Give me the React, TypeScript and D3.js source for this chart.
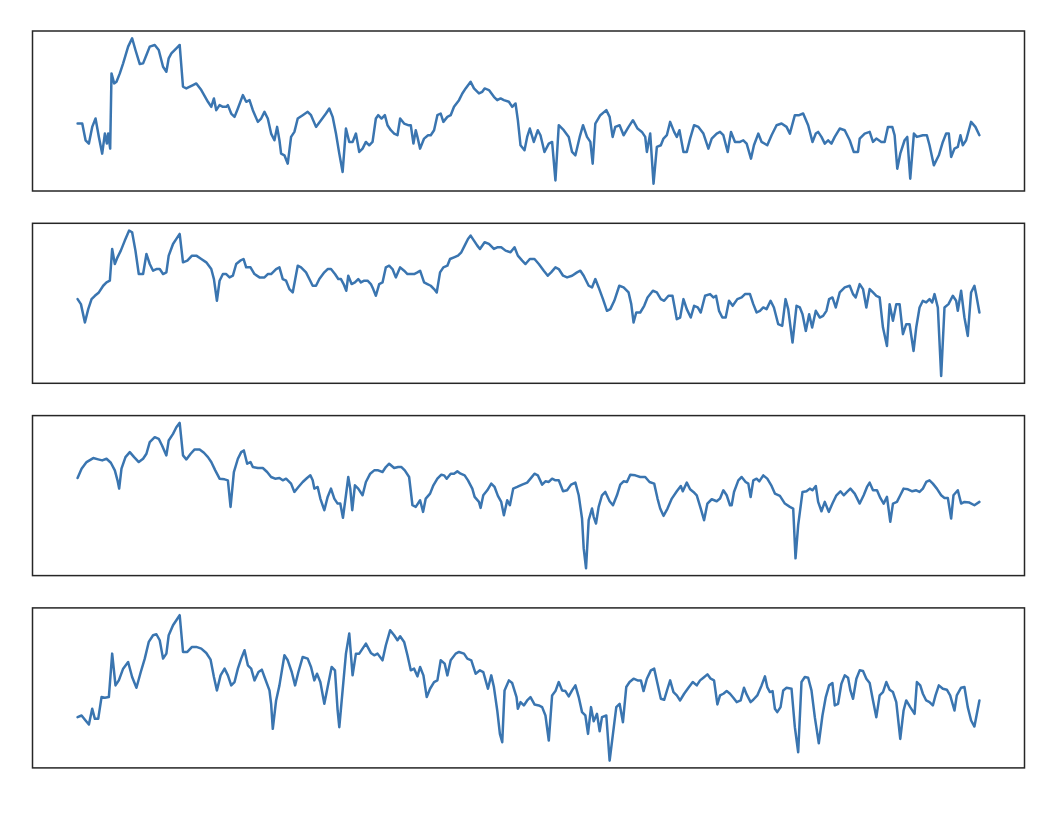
import React from 'react';
import * as d3 from 'd3';

// Four series as [time, value] pairs (arbitrary units, no axes shown)
const seriesA: [number, number][] = [
  [48,210],[62,210],[72,160],[82,150],[92,200],[102,225],[112,170],[122,120],[130,180],[136,150],[140,180],[146,135],
  [150,360],[158,330],[165,335],[175,360],[185,390],[200,440],[212,465],[222,430],[235,388],[245,390],[255,415],[265,440],
  [280,445],[292,430],[305,380],[315,365],[322,405],[330,420],[345,435],[355,445],[365,320],[375,315],[395,325],[405,330],
  [420,310],[440,275],[450,260],[458,285],[465,250],[475,265],[485,260],[495,260],[500,265],[510,240],[520,230],[530,255],
  [545,295],[555,275],[565,280],[575,250],[590,215],[600,225],[610,245],[620,225],[630,180],[640,160],[648,200],[655,160],
  [660,120],[670,115],[680,90],[690,170],[700,185],[710,225],[725,235],[740,245],[750,235],[765,200],[780,220],[795,240],
  [805,255],[815,230],[825,180],[835,120],[845,65],[855,195],[865,155],[875,155],[885,180],[895,125],[905,135],[915,155],
  [925,145],[935,155],[945,225],[952,235],[962,225],[972,235],[980,205],[990,190],[1000,180],[1010,175],[1018,225],[1030,210],
  [1042,205],[1050,205],[1058,150],[1065,190],[1070,170],[1078,135],[1090,165],[1102,175],[1110,175],[1120,190],[1130,235],
  [1140,240],[1148,215],[1160,230],[1170,235],[1180,260],[1195,280],[1205,300],[1215,315],[1230,335],[1240,315],[1255,300],
  [1265,305],[1272,315],[1285,310],[1300,290],[1310,280],[1320,285],[1330,280],[1345,275],[1355,260],[1365,270],[1372,220],
  [1380,145],[1392,130],[1400,170],[1408,195],
  [1420,155],[1432,190],[1440,175],[1452,125],[1465,150],[1475,155],[1485,40],[1495,205],[1510,190],[1525,170],[1535,125],
  [1545,115],[1558,170],[1568,205],[1580,170],[1590,155],[1597,90],[1605,210],[1620,235],[1638,250],[1648,230],[1657,170],
  [1665,200],[1678,205],[1690,175],[1705,200],[1718,220],[1732,195],[1745,185],[1755,170],[1760,125],[1770,180],[1780,30],
  [1790,140],[1802,145],[1810,165],[1820,175],[1830,215],[1842,185],[1850,170],[1858,190],[1870,125],[1880,125],[1890,165],
  [1902,205],[1915,200],[1930,180],[1945,135],[1955,165],[1970,180],[1980,185],[1990,175],[2003,125],[2013,185],[2025,155],
  [2040,155],[2050,160],[2060,150],[2073,105],[2082,145],[2095,180],[2105,155],[2122,145],[2135,175],[2150,205],[2165,210],
  [2180,200],[2190,180],[2205,235],[2218,235],[2230,240],[2245,205],[2258,155],[2268,180],[2275,185],[2285,170],[2295,150],
  [2305,160],[2315,150],[2325,170],[2340,195],[2355,190],[2370,160],[2382,125],[2395,125],[2400,165],[2415,180],[2430,185],
  [2440,155],[2450,165],[2465,155],[2475,155],[2485,200],[2498,200],[2505,175],[2513,75],[2522,120],[2535,160],[2543,170],
  [2552,45],[2563,180],[2572,170],[2590,175],[2602,175],[2610,145],[2623,85],[2638,115],[2650,155],[2660,180],[2668,180],
  [2675,110],[2685,135],[2695,140],[2703,175],[2710,145],[2720,160],[2735,215],[2748,200],[2760,175],
];

const seriesB: [number, number][] = [
  [48,255],[58,240],[70,185],[80,225],[90,255],[100,265],[112,275],[125,295],[135,305],[145,310],[152,405],[160,360],
  [168,380],[178,400],[190,430],[203,460],[212,455],[222,400],[232,330],[245,330],[255,390],[265,360],[275,340],[285,345],
  [295,345],[305,330],[315,335],[322,385],[335,420],[345,435],[355,450],[365,365],[378,370],[392,385],[405,385],[420,375],
  [435,365],[450,345],[458,315],[467,250],[475,310],[485,330],[495,330],[505,320],[515,325],[525,360],[537,370],[547,375],
  [555,350],[568,350],[580,330],[595,320],[610,320],[620,330],[630,330],[645,345],[655,350],[665,315],[675,310],[685,285],
  [695,275],[710,355],[720,350],[735,335],[745,315],[755,295],[765,295],[775,315],[790,335],[800,345],[810,345],[822,330],
  [832,315],[840,315],[848,300],[856,280],[862,325],[872,300],[882,305],[892,315],[900,305],[910,310],[920,310],[930,300],
  [937,285],[945,265],[955,300],[965,305],[975,350],[985,355],[995,345],[1005,320],[1018,350],[1030,340],[1040,330],[1050,330],
  [1060,330],[1070,335],[1078,340],[1090,305],[1100,300],[1110,295],[1120,285],[1128,275],[1138,335],[1148,350],[1160,355],
  [1168,375],[1180,380],[1192,385],[1202,395],[1212,415],[1222,435],[1230,445],[1240,430],[1250,415],[1258,405],[1272,425],
  [1285,420],[1300,405],[1310,410],[1322,410],[1335,400],[1350,395],[1362,410],[1372,385],[1385,370],[1395,360],[1408,375],
  [1422,375],[1435,360],[1450,340],[1462,325],[1472,335],[1485,350],[1495,345],[1508,325],[1520,320],[1535,325],[1550,335],
  [1560,340],[1570,325],[1585,295],[1595,290],[1605,315],[1615,290],[1628,255],[1640,220],[1650,225],[1662,250],[1677,295],
  [1690,290],[1705,275],[1713,240],[1720,185],[1728,215],[1740,215],[1752,235],[1762,260],[1778,280],[1790,275],[1802,255],
  [1812,250],[1825,265],[1837,265],[1850,195],[1860,200],[1870,255],[1880,225],[1892,200],[1902,235],[1913,230],[1922,215],
  [1935,265],[1950,270],[1960,260],[1968,265],[1977,220],[1987,200],[1997,200],[2007,250],[2018,235],[2032,255],[2045,260],
  [2055,270],[2070,270],[2080,240],[2090,215],[2100,220],[2110,230],[2120,225],[2132,250],[2142,230],[2155,180],[2167,175],
  [2177,255],[2185,225],[2198,125],[2210,235],[2220,230],[2228,210],[2238,160],[2248,210],[2257,170],[2268,220],[2280,200],
  [2290,205],[2300,220],[2308,255],[2318,260],[2328,230],[2340,275],[2355,290],[2370,295],[2380,270],[2388,260],[2400,300],
  [2410,285],[2420,230],[2430,285],[2440,275],[2450,265],[2460,260],[2470,170],[2482,115],[2490,240],[2500,190],[2510,240],
  [2520,240],[2530,150],[2540,180],[2550,180],[2562,100],[2570,170],[2580,230],[2590,250],[2600,245],[2610,255],[2618,245],
  [2625,270],[2635,230],[2645,25],[2655,230],[2667,240],[2680,265],[2690,250],[2695,220],[2705,280],[2715,200],[2725,145],
  [2735,275],[2745,295],[2750,270],[2760,215],
];

const seriesC: [number, number][] = [
  [48,292],[60,320],[75,340],[95,352],[110,348],[122,345],[135,350],[148,338],[160,315],[168,285],[173,260],[180,320],
  [192,355],[205,370],[218,355],[232,340],[245,350],[255,365],[265,400],[280,415],[292,410],[302,390],[315,360],[322,405],
  [335,425],[345,445],[355,458],[365,360],[375,348],[388,365],[400,378],[415,378],[428,368],[440,355],[450,340],[462,315],
  [475,290],[490,288],[500,285],[508,205],[518,310],[530,350],[540,370],[548,375],[558,335],[568,340],[575,325],[590,322],
  [605,322],[618,310],[630,295],[642,290],[655,292],[665,285],[675,290],[690,275],[700,250],[712,265],[725,280],[738,292],
  [748,300],[755,285],[760,260],[770,265],[778,230],[790,195],[800,235],[810,260],[820,230],[830,215],[838,215],[846,172],
  [855,240],[862,295],[868,260],[874,195],[882,270],[892,260],[905,240],[915,280],[928,305],[940,315],[952,315],[965,310],
  [975,325],[985,335],[1000,322],[1012,325],[1022,325],[1032,315],[1045,295],[1055,210],[1065,205],[1078,225],[1087,190],
  [1095,230],[1108,245],[1118,270],[1130,290],[1142,302],[1150,300],[1158,290],[1170,305],[1180,305],[1190,312],[1200,305],
  [1212,300],[1222,285],[1235,260],[1242,235],[1255,220],[1260,202],[1268,240],[1280,255],[1292,275],[1302,265],[1312,238],
  [1322,220],[1330,180],[1340,225],[1348,210],[1358,260],[1370,265],[1385,272],[1400,278],[1410,290],
  [1422,305],[1432,300],[1445,272],[1455,282],[1465,280],[1475,290],[1485,285],[1495,285],[1508,252],[1520,255],[1532,272],
  [1545,278],[1555,240],[1565,170],[1570,80],[1577,20],[1585,165],[1595,200],[1600,175],[1607,155],[1615,205],[1625,240],
  [1635,250],[1648,222],[1658,210],[1670,240],[1680,272],[1690,282],[1700,280],[1710,302],[1725,300],[1740,295],[1755,295],
  [1768,280],[1782,275],[1792,230],[1800,200],[1810,178],[1822,200],[1835,230],[1850,252],[1862,268],[1868,252],[1880,278],
  [1890,258],[1900,250],[1910,240],[1922,200],[1932,165],[1942,215],[1955,228],[1970,222],[1980,230],[1990,255],[2000,240],
  [2010,210],[2015,210],[2022,250],[2035,285],[2045,295],[2057,280],[2065,275],[2072,235],[2080,285],[2090,290],[2098,282],
  [2110,300],[2122,290],[2135,268],[2145,245],[2160,238],[2175,215],[2190,205],[2200,200],[2207,50],[2215,150],[2228,250],
  [2240,252],[2250,260],[2258,255],[2268,268],[2275,220],[2285,192],[2295,220],[2307,190],[2318,215],[2330,240],[2342,252],
  [2352,240],[2362,250],[2372,260],[2385,245],[2400,215],[2412,240],[2422,265],[2430,278],[2440,255],[2452,255],[2462,232],
  [2472,215],[2482,235],[2492,160],[2500,215],[2512,220],[2522,240],[2532,260],[2545,258],[2558,252],[2570,255],[2580,250],
  [2590,260],[2600,280],[2610,285],[2620,275],[2632,260],[2645,240],[2655,232],[2665,232],[2675,170],[2682,240],[2695,255],
  [2705,215],[2715,220],[2730,218],[2745,210],[2760,220],
];

const seriesD: [number, number][] = [
  [48,150],[60,155],[72,140],[82,128],[92,175],[100,145],[110,145],[120,210],[130,208],[142,210],[152,340],[162,245],
  [172,260],[185,295],[200,315],[212,270],[225,238],[238,285],[250,325],[262,375],[275,395],[285,398],[295,380],[305,325],
  [315,340],[322,395],[335,425],[345,440],[355,455],[365,345],[378,345],[392,360],[405,360],[420,355],[435,342],[448,322],
  [458,270],[467,230],[478,275],[490,295],[500,275],[510,245],[520,255],[530,295],[540,325],[550,350],[560,305],[570,295],
  [580,260],[592,285],[602,292],[612,265],[625,230],[630,190],[635,115],[645,200],[655,245],[670,335],[680,320],[692,285],
  [702,245],[712,285],[725,330],[740,325],[750,300],[760,260],[768,280],[778,255],[790,190],[800,240],[812,300],[822,290],
  [830,170],[835,120],[845,230],[855,340],[865,400],[875,275],[885,340],[895,340],[905,355],[915,370],[930,342],[940,335],
  [950,340],[965,320],[975,365],[988,410],[1000,395],[1010,380],[1018,392],[1030,375],[1040,335],[1050,290],[1060,295],
  [1070,272],[1078,300],[1088,275],[1098,210],[1108,235],[1120,255],[1130,260],[1140,320],[1152,310],[1160,275],[1170,320],
  [1185,340],[1195,345],[1210,340],[1220,325],[1232,320],[1245,280],[1258,290],[1268,285],[1275,260],[1282,235],[1292,275],
  [1300,240],[1310,170],[1318,100],[1325,75],[1332,230],[1345,260],[1355,252],[1368,210],[1372,175],[1380,195],[1390,185],
  [1400,200],
  [1410,210],[1422,188],[1435,185],[1445,180],[1455,155],[1465,80],[1475,215],[1485,228],[1495,255],[1505,230],[1515,228],
  [1525,212],[1535,230],[1545,245],[1555,210],[1565,165],[1575,155],[1583,100],[1592,180],[1600,138],[1610,160],[1618,108],
  [1625,150],[1638,155],[1648,20],[1658,100],[1668,180],[1678,190],[1688,135],[1698,240],[1708,255],[1720,265],[1732,260],
  [1742,260],[1750,228],[1760,265],[1772,290],[1782,295],[1792,250],[1802,205],[1812,202],[1822,235],[1830,260],[1840,225],
  [1850,215],[1860,200],[1872,220],[1885,238],[1898,255],[1910,245],[1920,260],[1930,268],[1942,278],[1952,265],[1962,260],
  [1972,188],[1980,215],[1990,220],[2000,228],[2010,220],[2020,208],[2030,195],[2042,200],[2052,238],[2060,218],[2072,195],
  [2080,202],[2092,215],[2105,245],[2115,272],[2122,240],[2130,225],[2138,228],[2145,175],[2152,165],[2162,180],[2170,230],
  [2180,238],[2195,235],[2205,120],[2215,45],[2225,255],[2235,270],[2245,268],[2255,230],[2265,150],[2277,72],[2288,155],
  [2298,210],[2308,245],[2318,252],[2325,185],[2335,190],[2345,250],[2355,275],[2365,268],[2372,230],[2380,205],[2390,265],
  [2400,290],[2410,288],[2420,265],[2430,252],[2440,200],[2450,150],[2460,215],[2470,225],[2480,255],[2490,232],[2500,225],
  [2510,195],[2522,85],[2532,170],[2540,200],[2552,180],[2565,160],[2572,255],[2582,245],[2590,220],[2600,200],[2610,195],
  [2620,185],[2628,215],[2638,245],[2650,235],[2662,232],[2672,215],[2685,170],[2692,215],[2705,238],[2715,240],[2725,180],
  [2735,140],[2745,122],[2760,200],
];

const allSeries = [seriesA, seriesB, seriesC, seriesD];

const W = 1064;
const H = 814;
const left = 32.5;
const right = 1024.5;
const top = 31;
const panelH = 160;
const gap = 32.3;
const color = '#3a75b0';

function padded(ext: [number, number]): [number, number] {
  const pad = (ext[1] - ext[0]) * 0.05;
  return [ext[0] - pad, ext[1] + pad];
}

export default function App() {
  const tExt = d3.extent(allSeries.flat(), d => d[0]) as [number, number];
  const x = d3.scaleLinear().domain(padded(tExt)).range([left, right]);

  return (
    <svg width={W} height={H} style={{ position: 'absolute', left: 0, top: 0, background: '#fff' }}>
      {allSeries.map((s, i) => {
        const y0 = top + i * (panelH + gap);
        const y = d3.scaleLinear()
          .domain(padded(d3.extent(s, d => d[1]) as [number, number]))
          .range([y0 + panelH, y0]);
        const line = d3.line<[number, number]>()
          .x(d => x(d[0]))
          .y(d => y(d[1]));
        return (
          <g key={i}>
            <path d={line(s) || ''} fill="none" stroke={color} strokeWidth={2.5} strokeLinejoin="round" strokeLinecap="round" />
            <rect x={left} y={y0} width={right - left} height={panelH} fill="none" stroke="#262626" strokeWidth={1.5} />
          </g>
        );
      })}
    </svg>
  );
}
